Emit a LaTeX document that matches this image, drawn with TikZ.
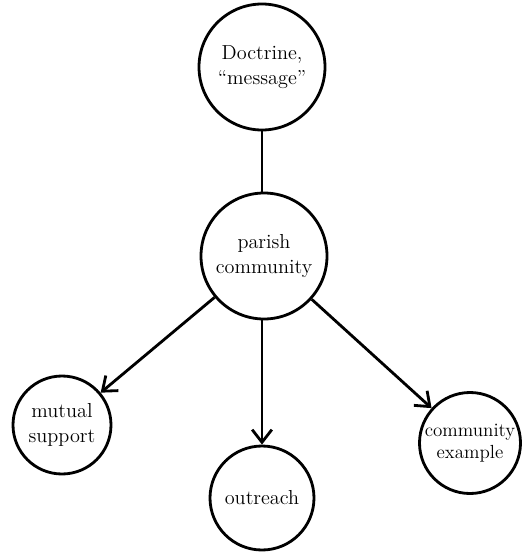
\documentclass[tikz,border=0pt]{standalone}
\usetikzlibrary{arrows.meta}

\newcommand\bigdiam{126}
\newcommand\smalldiam{98}

\begin{document}
\begin{tikzpicture}[x=0.025cm,y=-0.025cm,
    bubble/.style={draw,circle,line width=2pt,align=center,font=\Large,inner sep=0pt},
    link/.style={line width=2pt},
    arrowlink/.style={link,-{Straight Barb[length=9pt,width=14pt,line width=2pt]}}]
    \useasboundingbox (0,0) rectangle (524,552);

    \node[bubble,minimum size=\bigdiam*0.025cm] (doctrine) at (262,67) {Doctrine,\\``message''};
    \node[bubble,minimum size=\bigdiam*0.025cm] (parish) at (264,256) {parish\\community};

    \node[bubble,minimum size=\smalldiam*0.025cm] (mutual) at (62,425) {mutual\\support};
    \node[bubble,minimum size=104*0.025cm] (outreach) at (262,498) {outreach};
    \node[bubble,minimum size=101*0.025cm,font=\fontsize{13.5}{16}\selectfont] (example) at (470,443) {community\\example};

    \draw[link] (doctrine.south) -- (doctrine.south |- parish.north);
    \draw[arrowlink] (parish) -- (mutual);
    \draw[arrowlink] (parish.south -| outreach) -- (outreach);
    \draw[arrowlink] (parish) -- (example);

  \end{tikzpicture}
\end{document}
